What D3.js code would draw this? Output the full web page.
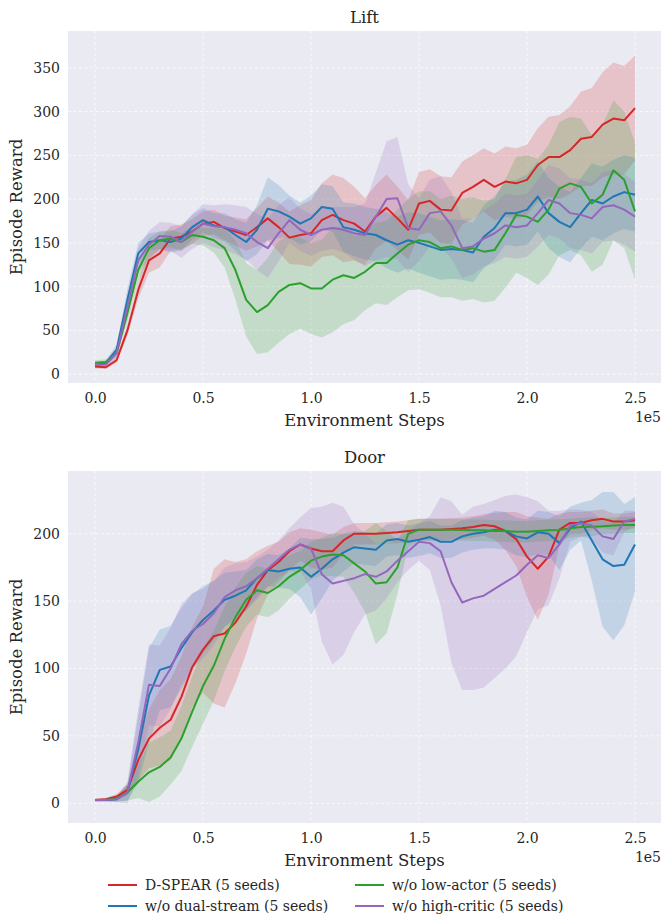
<!DOCTYPE html>
<html>
<head>
<meta charset="utf-8">
<script src="https://cdn.jsdelivr.net/npm/d3@7"></script>
<style>
  body { margin: 0; background: #fff; }
  text { font-family: "DejaVu Serif", "Liberation Serif", serif; fill: #262626; }
</style>
</head>
<body>
<script>
// steps in units of 1e5, every 0.05e5
const steps = d3.range(51).map(function (i) { return +(i * 0.05).toFixed(2); });
const xTicks = [0, 0.5, 1.0, 1.5, 2.0, 2.5];
const seriesNames = ["D-SPEAR (5 seeds)", "w/o dual-stream (5 seeds)", "w/o low-actor (5 seeds)", "w/o high-critic (5 seeds)"];
const colors = ["#d62728", "#1f77b4", "#2ca02c", "#9467bd"];

// Lift - mean
const liftRed = [8.7, 8, 16, 50, 96, 130, 138, 155, 157, 163, 172, 174, 167, 163, 159, 168, 178, 168, 156, 159, 161, 176, 182, 176, 172, 163, 180, 190, 178, 165, 195, 198, 188, 187, 207, 214, 222, 214, 220, 218, 222, 239, 248, 248, 256, 269, 271, 285, 292, 290, 304];
const liftBlue = [10.6, 12.5, 28, 85, 138, 151, 153, 151, 155, 168, 176, 170, 168, 159, 151, 165, 189, 186, 180, 172, 178, 191, 189, 168, 165, 161, 159, 153, 148, 153, 150, 146, 142, 143, 142, 139, 157, 167, 184, 184, 188, 203, 184, 174, 168, 184, 199, 195, 203, 208, 205];
const liftGreen = [13, 14, 24, 70, 119, 144, 153, 155, 151, 159, 157, 153, 144, 119, 85, 71, 79, 94, 102, 104, 98, 98, 108, 113, 110, 117, 127, 127, 138, 148, 153, 151, 144, 146, 142, 144, 140, 142, 161, 182, 180, 174, 188, 212, 218, 214, 195, 205, 233, 222, 186];
const liftPurple = [10.6, 11, 24, 77, 130, 148, 158, 157, 151, 163, 172, 169, 168, 165, 161, 151, 144, 161, 176, 165, 159, 165, 167, 165, 161, 159, 180, 200, 201, 167, 165, 184, 186, 170, 144, 146, 155, 161, 170, 168, 170, 184, 199, 195, 184, 182, 178, 191, 193, 188, 180];
// Lift - spread (half width of the band)
const liftRedSd = [2, 2, 3, 6, 10, 14, 16, 14, 14, 14, 14, 14, 14, 16, 18, 22, 25, 28, 30, 34, 38, 42, 46, 48, 42, 38, 36, 38, 36, 34, 36, 36, 38, 38, 36, 36, 36, 38, 40, 40, 40, 42, 46, 48, 50, 54, 56, 60, 64, 62, 60];
const liftBlueSd = [3, 3, 6, 12, 12, 10, 10, 12, 14, 14, 14, 14, 16, 18, 22, 28, 36, 30, 24, 24, 26, 26, 26, 28, 30, 30, 30, 32, 32, 32, 34, 34, 34, 34, 34, 34, 36, 36, 36, 38, 40, 40, 40, 40, 40, 40, 42, 42, 42, 42, 42];
const liftGreenSd = [3, 3, 5, 10, 12, 12, 10, 10, 10, 10, 10, 14, 22, 34, 42, 48, 54, 58, 56, 52, 52, 56, 60, 56, 48, 44, 46, 48, 50, 52, 56, 58, 56, 58, 58, 58, 58, 58, 62, 66, 70, 72, 74, 76, 76, 78, 78, 80, 80, 78, 78];
const liftPurpleSd = [3, 3, 6, 12, 14, 16, 16, 16, 18, 20, 22, 24, 26, 28, 30, 32, 34, 32, 26, 24, 24, 24, 24, 26, 30, 36, 50, 66, 70, 50, 36, 38, 40, 38, 34, 32, 32, 34, 36, 36, 36, 38, 40, 40, 40, 40, 40, 40, 40, 40, 40];

// Door - mean
const doorRed = [2.4, 3, 5, 10, 32, 48, 56, 62, 79, 101, 114, 124, 126, 134, 146, 162, 173, 179, 187, 192, 189, 187, 187, 195, 200, 200, 200, 200.5, 201, 202, 203, 203, 203, 203.5, 204, 205, 206.5, 205.5, 202, 196, 183, 174, 183, 203, 208, 208, 210, 211, 209, 209, 210];
const doorBlue = [2.4, 2.4, 3, 8, 40, 80, 99, 101.5, 115, 127, 136, 143, 151, 154, 158, 167, 173, 172, 174, 175, 168, 174, 181, 186, 190, 189, 188, 195, 196, 194, 195.5, 197.5, 194, 194, 198, 200, 201, 203, 202, 198, 196.5, 201, 200, 193, 204, 209, 195, 181, 176, 177, 192];
const doorGreen = [2.4, 2.4, 3.5, 8, 16, 23, 27, 34, 48, 68, 87, 102, 122, 138, 151, 158, 156, 161, 168, 173, 180, 183, 184.5, 184, 178, 172, 163, 164, 175, 200, 203, 203, 203, 203, 202.7, 202.5, 202.5, 202, 202, 201.5, 201.5, 202, 202.5, 202.7, 204, 205, 205.2, 205.5, 206, 206.5, 206.5];
const doorPurple = [2.4, 2.4, 3, 8, 45, 88, 87, 100, 118, 128, 133, 141, 153, 158, 161, 167, 174, 181, 188, 192, 189, 170, 163, 165, 167, 170, 168, 172, 180, 187, 194, 193, 187, 164, 149, 152, 154, 159, 164, 169, 177, 184, 182, 192, 206, 207.7, 206, 198, 196, 209, 211];
// Door - spread
const doorRedSd = [1, 1, 2, 4, 15, 22, 28, 30, 30, 30, 32, 50, 55, 45, 35, 25, 18, 15, 14, 12, 14, 14, 12, 10, 8, 8, 8, 8, 8, 8, 8, 8, 8, 8, 8, 8, 8, 10, 14, 20, 30, 38, 28, 12, 8, 8, 7, 7, 6, 6, 6];
const doorBlueSd = [1, 1, 2, 6, 25, 35, 30, 30, 30, 28, 25, 22, 20, 18, 15, 14, 12, 12, 15, 22, 28, 22, 16, 14, 12, 12, 12, 12, 12, 12, 12, 12, 12, 12, 12, 12, 12, 14, 14, 14, 14, 16, 16, 20, 16, 14, 30, 50, 55, 45, 35];
const doorGreenSd = [1, 1, 2, 6, 12, 22, 22, 20, 24, 26, 28, 26, 24, 22, 20, 18, 18, 18, 16, 14, 14, 14, 16, 16, 22, 30, 45, 38, 20, 10, 8, 8, 8, 8, 8, 8, 8, 8, 8, 8, 8, 8, 8, 8, 7, 7, 7, 6, 6, 6, 6];
const doorPurpleSd = [1, 1, 2, 8, 25, 30, 30, 30, 30, 28, 26, 24, 22, 20, 18, 16, 14, 14, 16, 20, 30, 50, 60, 55, 40, 30, 25, 20, 16, 14, 14, 20, 40, 60, 65, 68, 68, 66, 64, 60, 50, 40, 35, 25, 12, 10, 10, 12, 12, 8, 6];

const liftYTicks = [0, 50, 100, 150, 200, 250, 300, 350];
const doorYTicks = [0, 50, 100, 150, 200];

const W = 661, H = 915;
const FONT = "'DejaVu Serif', 'Liberation Serif', serif";
const svg = d3.select("body").append("svg").attr("width", W).attr("height", H);

function drawPanel(top, title, means, sds, yDomain, yTicks) {
  const left = 68, right = 661, plotH = 352;
  const g = svg.append("g");

  const xScale = d3.scaleLinear().domain([-0.125, 2.625]).range([left, left + 594]);
  const yScale = d3.scaleLinear().domain(yDomain).range([top + plotH, top]);

  g.append("rect")
    .attr("x", left).attr("y", top)
    .attr("width", right - left).attr("height", plotH)
    .attr("fill", "#eaeaf2");

  // grid
  g.selectAll(".gx").data(xTicks).enter().append("line")
    .attr("x1", function (d) { return xScale(d); })
    .attr("x2", function (d) { return xScale(d); })
    .attr("y1", top).attr("y2", top + plotH)
    .attr("stroke", "#fff").attr("stroke-width", 0.9)
    .attr("stroke-dasharray", "3,2.5").attr("opacity", 0.8);
  g.selectAll(".gy").data(yTicks).enter().append("line")
    .attr("x1", left).attr("x2", right)
    .attr("y1", function (d) { return yScale(d); })
    .attr("y2", function (d) { return yScale(d); })
    .attr("stroke", "#fff").attr("stroke-width", 0.9)
    .attr("stroke-dasharray", "3,2.5").attr("opacity", 0.8);

  // bands
  means.forEach(function (m, k) {
    const band = d3.area()
      .x(function (d, i) { return xScale(steps[i]); })
      .y0(function (d, i) { return yScale(m[i] - sds[k][i]); })
      .y1(function (d, i) { return yScale(m[i] + sds[k][i]); });
    g.append("path").datum(m)
      .attr("d", band)
      .attr("fill", colors[k]).attr("fill-opacity", 0.2);
  });

  // mean lines
  means.forEach(function (m, k) {
    const line = d3.line()
      .x(function (d, i) { return xScale(steps[i]); })
      .y(function (d) { return yScale(d); });
    g.append("path").datum(m)
      .attr("d", line)
      .attr("fill", "none").attr("stroke", colors[k])
      .attr("stroke-width", 2).attr("stroke-linejoin", "round");
  });

  // axes (labels only, like seaborn darkgrid)
  const xAxis = g.append("g").attr("transform", "translate(0," + (top + plotH) + ")")
    .call(d3.axisBottom(xScale).tickValues(xTicks).tickFormat(d3.format(".1f")).tickSize(0).tickPadding(10));
  const yAxis = g.append("g").attr("transform", "translate(" + left + ",0)")
    .call(d3.axisLeft(yScale).tickValues(yTicks).tickSize(0).tickPadding(8));
  [xAxis, yAxis].forEach(function (a) {
    a.attr("font-family", FONT);
    a.select(".domain").remove();
    a.selectAll("text").attr("font-size", "14px").attr("fill", "#262626");
  });

  g.append("text")
    .attr("x", (left + right) / 2).attr("y", top - 8)
    .attr("text-anchor", "middle").attr("font-size", "16.5px")
    .text(title);
  g.append("text")
    .attr("x", (left + right) / 2).attr("y", top + plotH + 43)
    .attr("text-anchor", "middle").attr("font-size", "16.5px")
    .text("Environment Steps");
  g.append("text")
    .attr("x", 661).attr("y", top + plotH + 39)
    .attr("text-anchor", "end").attr("font-size", "14px")
    .text("1e5");
  g.append("text")
    .attr("transform", "translate(22," + (top + plotH / 2) + ") rotate(-90)")
    .attr("text-anchor", "middle").attr("font-size", "16.5px")
    .text("Episode Reward");
}

drawPanel(31, "Lift",
  [liftRed, liftBlue, liftGreen, liftPurple],
  [liftRedSd, liftBlueSd, liftGreenSd, liftPurpleSd],
  [-10, 392], liftYTicks);

drawPanel(471, "Door",
  [doorRed, doorBlue, doorGreen, doorPurple],
  [doorRedSd, doorBlueSd, doorGreenSd, doorPurpleSd],
  [-14.6, 246.5], doorYTicks);

// legend, two columns filled column-first
const legendPos = [[108, 885], [108, 906], [355, 885], [355, 906]];
const legend = svg.append("g");
seriesNames.forEach(function (name, k) {
  const p = legendPos[k];
  legend.append("line")
    .attr("x1", p[0]).attr("x2", p[0] + 29)
    .attr("y1", p[1]).attr("y2", p[1])
    .attr("stroke", colors[k]).attr("stroke-width", 2);
  legend.append("text")
    .attr("x", p[0] + 37).attr("y", p[1] + 5)
    .attr("font-size", "14px")
    .text(name);
});
</script>
</body>
</html>
